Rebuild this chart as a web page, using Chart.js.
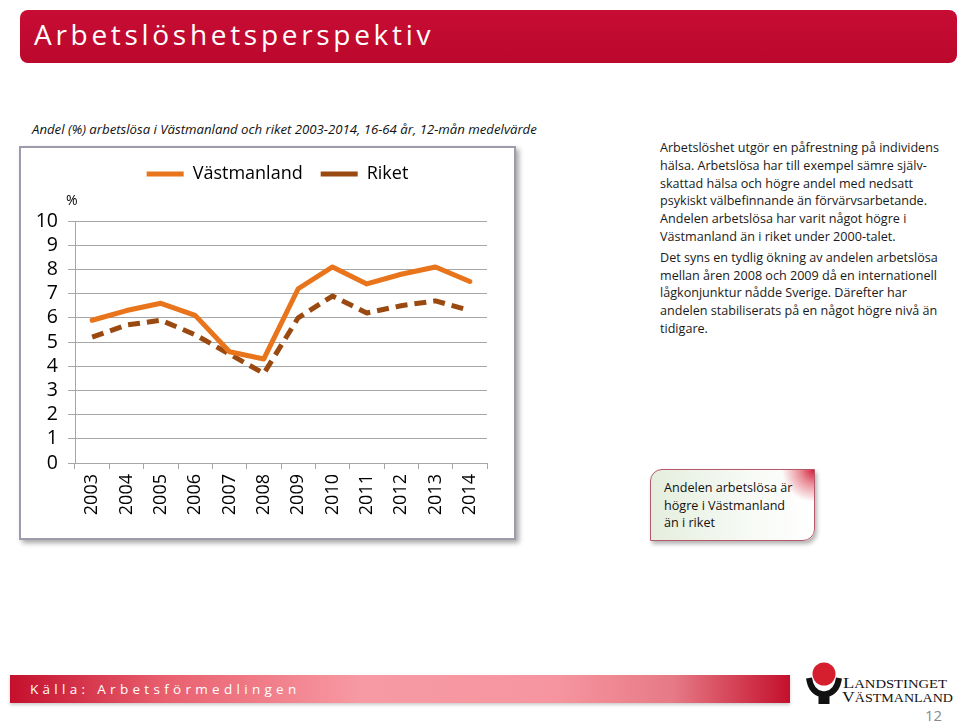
<!DOCTYPE html>
<html>
<head>
<meta charset="utf-8">
<script src="https://cdn.jsdelivr.net/npm/chart.js@4.4.1/dist/chart.umd.min.js"></script>
<style>
  html, body { margin:0; padding:0; background:#fff; }
  body { width:960px; height:723px; position:relative; overflow:hidden; font-family:"Open Sans", sans-serif; }
  .abs { position:absolute; }
  #titlebar { left:20px; top:10px; width:937px; height:53px; border-radius:8px;
    background:linear-gradient(to bottom, #c80c34, #bb082c); }
  #titletext { left:34px; top:15px; color:#fff; font-size:28px; letter-spacing:3.7px; white-space:nowrap; }
  #subtitle { left:32px; top:120px; font-size:13.2px; font-style:italic; color:#111; white-space:nowrap; }
  #chartbox { left:19px; top:146px; width:493px; height:390px; border:2px solid #9c9cab; background:#fff;
    box-shadow:3px 3px 5px rgba(0,0,0,0.35); }
  #chart { left:20px; top:147px; }
  #pct { left:66px; top:190px; font-size:14px; color:#000; }
  #body { left:660px; top:139px; font-size:12.6px; line-height:17.8px; color:#1a1a1a; white-space:nowrap; }
  #body p { margin:0 0 3px 0; }
  #callout { left:650px; top:469px; width:163px; height:70px; border:1px solid #b5596a;
    border-radius:12px 0 12px 0; box-shadow:2px 3px 4px rgba(0,0,0,0.3);
    background:radial-gradient(circle at 100% 0%, #d4203a 0px, rgba(225,95,110,0.7) 14px, rgba(255,255,255,0) 32px),
               linear-gradient(to right, #e4eedd, #f7faf5 60%, #ffffff); }
  #callouttext { left:664px; top:479px; font-size:12.6px; line-height:17.5px; color:#111; white-space:nowrap; }
  #footer { left:10px; top:675px; width:780px; height:28px;
    background:linear-gradient(to right, #c4102c 0%, #e9606f 20%, #f79aa3 45%, #f6959f 70%, #e67a86 85%, #c4102c 100%);
    box-shadow:0 2px 3px rgba(0,0,0,0.2); }
  #source { left:30px; top:680px; color:#fff; font-size:13.5px; letter-spacing:4.3px; white-space:nowrap; }
  #logo { left:800px; top:655px; }
  #pagenum { left:925px; top:705px; font-size:15px; color:#8a8a8a; }
</style>
</head>
<body>
<div id="titlebar" class="abs"></div>
<div id="titletext" class="abs">Arbetslöshetsperspektiv</div>
<div id="subtitle" class="abs">Andel (%) arbetslösa i Västmanland och riket 2003-2014, 16-64 år, 12-mån medelvärde</div>
<div id="chartbox" class="abs"></div>
<canvas id="chart" class="abs" width="496" height="392"></canvas>
<div id="pct" class="abs">%</div>
<div id="body" class="abs">
<p>Arbetslöshet utgör en påfrestning på individens<br>hälsa. Arbetslösa har till exempel sämre själv-<br>skattad hälsa och högre andel med nedsatt<br>psykiskt välbefinnande än förvärvsarbetande.<br>Andelen arbetslösa har varit något högre i<br>Västmanland än i riket under 2000-talet.</p>
<p>Det syns en tydlig ökning av andelen arbetslösa<br>mellan åren 2008 och 2009 då en internationell<br>lågkonjunktur nådde Sverige. Därefter har<br>andelen stabiliserats på en något högre nivå än<br>tidigare.</p>
</div>
<div id="callout" class="abs"></div>
<div id="callouttext" class="abs">Andelen arbetslösa är<br>högre i Västmanland<br>än i riket</div>
<div id="footer" class="abs"></div>
<div id="source" class="abs">Källa: Arbetsförmedlingen</div>
<svg id="logo" class="abs" width="158" height="52" viewBox="0 0 158 52">
  <circle cx="24" cy="19" r="11.5" fill="#d51f2e"/>
  <path d="M9 23 Q 11 37 21.5 39 L21.5 49" fill="none" stroke="#111" stroke-width="6"/>
  <path d="M39 23 Q 37 37 26.5 39 L26.5 49" fill="none" stroke="#111" stroke-width="6"/>
  <text x="43" y="33" font-family="Liberation Serif, serif" font-size="14.5" fill="#111" textLength="104" lengthAdjust="spacingAndGlyphs">L<tspan font-size="11.5">ANDSTINGET</tspan></text>
  <text x="42" y="47" font-family="Liberation Serif, serif" font-size="14.5" fill="#111" textLength="111" lengthAdjust="spacingAndGlyphs">V<tspan font-size="11.5">ÄSTMANLAND</tspan></text>
</svg>
<div id="pagenum" class="abs">12</div>

<script>
const years = ['2003','2004','2005','2006','2007','2008','2009','2010','2011','2012','2013','2014'];
const vastmanland = [5.9, 6.3, 6.6, 6.1, 4.6, 4.3, 7.2, 8.1, 7.4, 7.8, 8.1, 7.5];
const riket = [5.2, 5.7, 5.9, 5.3, 4.5, 3.7, 6.0, 6.9, 6.2, 6.5, 6.7, 6.3];
const seriesNames = ['Västmanland', 'Riket'];

const legendSpacer = {
  id: 'legendSpacer',
  beforeInit(chart) {
    const orig = chart.legend.fit;
    chart.legend.fit = function () { orig.call(this); this.height = 74; };
  },
  afterLayout(chart) {
    chart.legend.left += 24;
    chart.legend.right += 24;
  }
};

const gridColor = '#a6a6a6';
new Chart(document.getElementById('chart'), {
  type: 'line',
  data: {
    labels: years,
    datasets: [
      { label: seriesNames[0], data: vastmanland, borderColor: '#e8741c', backgroundColor: '#e8741c',
        borderWidth: 5, pointRadius: 0, tension: 0, borderJoinStyle: 'round', borderCapStyle: 'round' },
      { label: seriesNames[1], data: riket, borderColor: '#9a4a10', backgroundColor: '#9a4a10',
        borderWidth: 5, pointRadius: 0, tension: 0, borderDash: [12, 7], borderJoinStyle: 'round' }
    ]
  },
  options: {
    responsive: false,
    animation: false,
    devicePixelRatio: 1,
    layout: { padding: { left: 0, right: 29, top: 0, bottom: 0 } },
    plugins: {
      legend: {
        position: 'top',
        labels: {
          usePointStyle: true, pointStyle: 'line', pointStyleWidth: 37,
          color: '#000', padding: 18,
          font: { family: 'Open Sans', size: 18 }
        }
      },
      tooltip: { enabled: false }
    },
    scales: {
      x: {
        offset: true,
        grid: { offset: true, drawOnChartArea: false, drawTicks: true, tickLength: 6, color: gridColor },
        border: { color: gridColor },
        ticks: { minRotation: 90, maxRotation: 90, autoSkip: false, padding: 5, color: '#000',
          font: { family: 'Open Sans', size: 18 } },
        afterFit(scale) { scale.height = 76; }
      },
      y: {
        min: 0, max: 10,
        grid: { color: gridColor, tickLength: 7 },
        border: { color: gridColor },
        ticks: { stepSize: 1, autoSkip: false, padding: 10, color: '#000', font: { family: 'Open Sans', size: 19.5 } },
        afterFit(scale) { scale.width = 55; }
      }
    }
  },
  plugins: [legendSpacer]
});
</script>
</body>
</html>
